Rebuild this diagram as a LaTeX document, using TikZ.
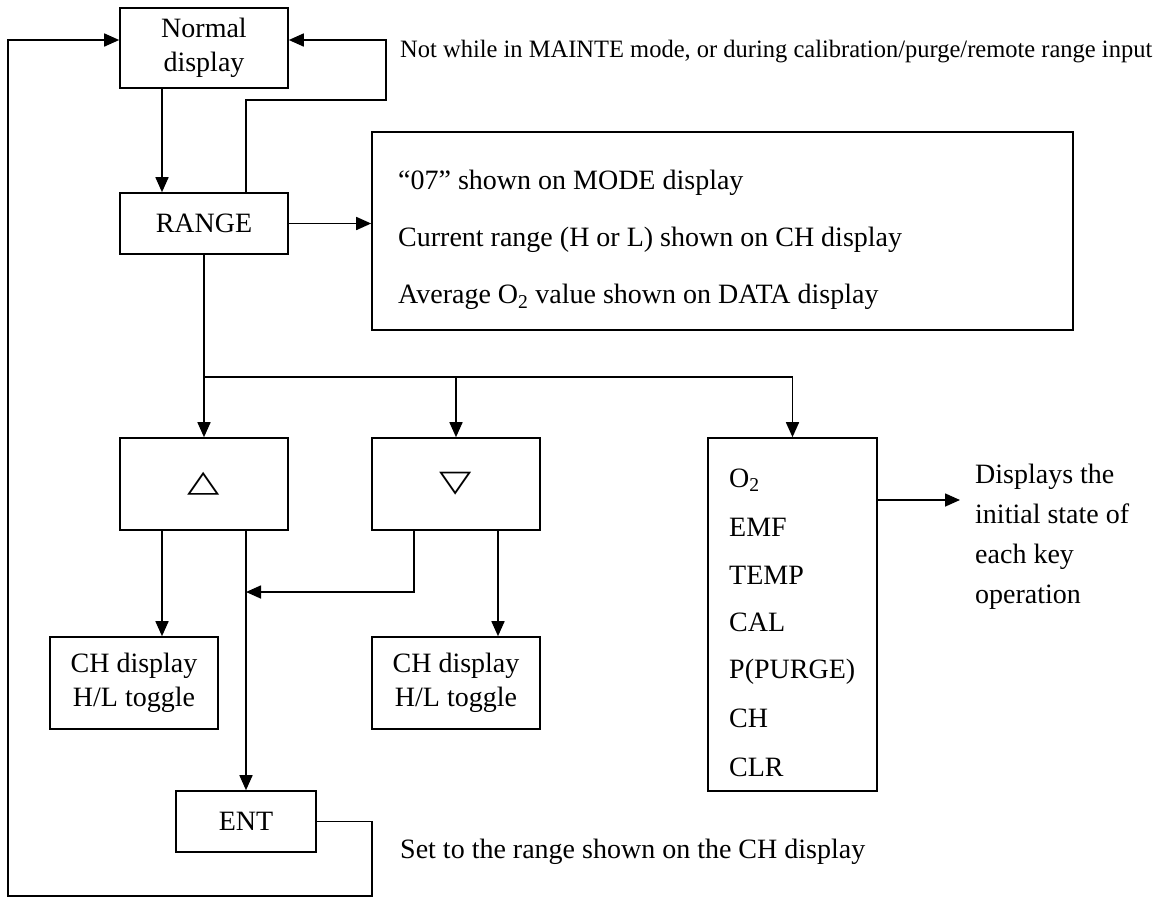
\documentclass[tikz,border=0pt]{standalone}
\usepackage{fontspec}
\setmainfont{Liberation Serif}
\newfontfamily\symfont{DejaVu Sans}
\usetikzlibrary{arrows.meta}
\begin{document}
\begin{tikzpicture}[x=1pt,y=-1pt,
  every node/.style={font=\fontsize{28}{34}\selectfont, inner sep=0pt},
  box/.style={draw, line width=1.6pt},
  txt/.style={anchor=west},
  arr/.style={line width=1.6pt, -{Triangle[length=15pt,width=13pt]}},
  wire/.style={line width=1.6pt}]
\useasboundingbox (0,0) rectangle (1163,898);

% boxes
\node[box, minimum width=168pt, minimum height=80pt, align=center] (normal) at (204,48) {Normal\\display};
\node[box, minimum width=168pt, minimum height=61pt] (range) at (204,223.5) {RANGE};
\node[box, minimum width=701pt, minimum height=198pt] (info) at (722.5,231) {};
\node[box, minimum width=168pt, minimum height=92pt] (up) at (204,484)
  {\symfont\fontsize{30}{30}\selectfont\scalebox{1.4}[1]{△}};
\node[box, minimum width=168pt, minimum height=92pt] (down) at (456,484)
  {\symfont\fontsize{30}{30}\selectfont\scalebox{1.4}[1]{▽}};
\node[box, minimum width=169pt, minimum height=353pt] (keys) at (792.5,614.5) {};
\node[box, minimum width=168pt, minimum height=92pt, align=center] (chl) at (134,683) {CH display\\H/L toggle};
\node[box, minimum width=168pt, minimum height=92pt, align=center] (chr) at (456,683) {CH display\\H/L toggle};
\node[box, minimum width=140pt, minimum height=61pt] (ent) at (246,821.5) {ENT};

% texts in the range box
\node[txt] (i1) at (398,183) {“07” shown on MODE display};
\node[txt] (i2) at (398,240) {Current range (H or L) shown on CH display};
\node[txt] (i3) at (398,297) {Average O\textsubscript{2} value shown on DATA display};

% key list
\node[txt] (k1) at (729,480) {O\textsubscript{2}};
\node[txt] (k2) at (729,527) {EMF};
\node[txt] (k3) at (729,575) {TEMP};
\node[txt] (k4) at (729,622) {CAL};
\node[txt] (k5) at (729,672) {P(PURGE)};
\node[txt] (k6) at (729,718) {CH};
\node[txt] (k7) at (729,767) {CLR};

% notes
\node[txt, font=\fontsize{25}{30}\selectfont] (note1) at (400,52) {\scalebox{0.98}[1]{Not while in MAINTE mode, or during calibration/purge/remote range input}};
\node[txt] (note2) at (400,852) {Set to the range shown on the CH display};
\node[txt, align=left, font=\fontsize{28}{40}\selectfont] (note3) at (975,537) {Displays the\\initial state of\\each key\\operation};

% routing points
\coordinate (fb) at (386,100);
\coordinate (split) at (204,377);
\coordinate (merge) at (246,592);
\coordinate (loopR) at (372,896);
\coordinate (loopL) at (8,896);
\coordinate (kout) at (960,500);

% connectors
\draw[arr] ([xshift=-42pt]normal.south) -- ([xshift=-42pt]range.north);
\draw[arr] ([xshift=42pt]range.north) |- (fb) |- ([yshift=8pt]normal.east);
\draw[arr] (range.east) -- (range.east -| info.west);
\draw[arr] (range.south) -- (up.north);
\draw[wire] (split) -- (split -| keys.north);
\draw[arr] (split -| down.north) -- (down.north);
\draw[arr] (split -| keys.north) -- (keys.north);
\draw[arr] ([xshift=-42pt]up.south) -- ([xshift=-42pt]up.south |- chl.north);
\draw[arr] ([xshift=42pt]up.south) -- (ent.north);
\draw[arr] ([xshift=-42pt]down.south) |- (merge);
\draw[arr] ([xshift=42pt]down.south) -- ([xshift=42pt]down.south |- chr.north);
\draw[arr] ([yshift=114.5pt]keys.east) -- (kout);
\draw[arr] (ent.east) -| (loopR) -- (loopL) |- ([yshift=8pt]normal.west);
\end{tikzpicture}
\end{document}
